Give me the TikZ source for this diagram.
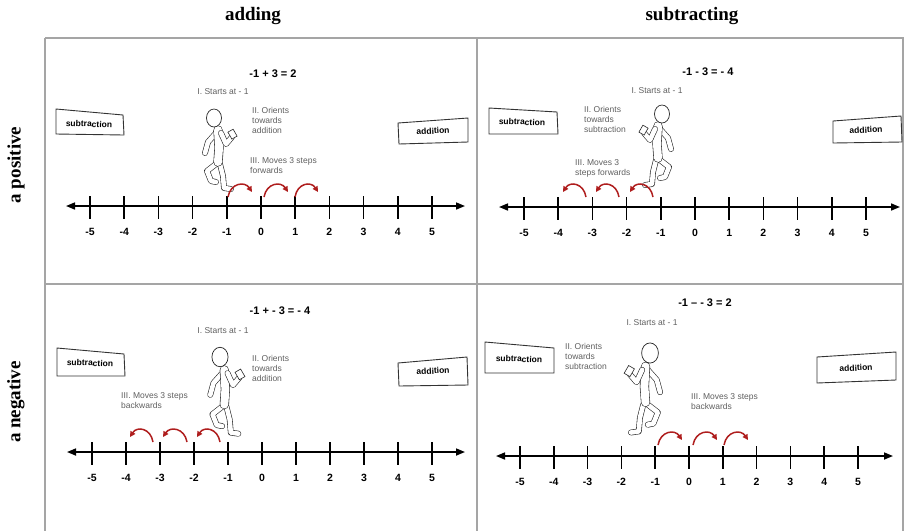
\documentclass[tikz,border=0pt]{standalone}
\usepackage{fontspec}
\setmainfont{Liberation Serif}
\setsansfont{Liberation Sans}
\usetikzlibrary{arrows.meta}

\definecolor{framegray}{RGB}{165,165,165}
\definecolor{notegray}{RGB}{95,95,95}
\definecolor{hopred}{RGB}{175,30,30}

\tikzset{
  frame/.style={draw=framegray, line width=2pt},
  header/.style={font=\fontsize{19}{22}\selectfont\bfseries},
  equation/.style={font=\sffamily\bfseries\fontsize{11}{13}\selectfont},
  note/.style={font=\sffamily\fontsize{8.5}{10}\selectfont, text=notegray, align=left, inner sep=0pt},
  signbox/.style={draw=black!80, line width=0.9pt},
  signtext/.style={font=\sffamily\bfseries\fontsize{8.5}{10}\selectfont},
  axis/.style={line width=1.6pt, {Triangle[length=9pt,width=7pt]}-{Triangle[length=9pt,width=7pt]}},
  axistick/.style={line width=1.6pt},
  ticklabel/.style={font=\sffamily\bfseries\fontsize{10.5}{12}\selectfont},
  hop/.style={draw=hopred, line width=1.5pt, -{Triangle[length=5.5pt,width=5.5pt]}},
  limb/.style={draw=black!85, line width=0.6pt, double=white, double distance=4.6pt, line cap=round, line join=round},
  walker/.pic={
    \draw[limb] (2,46) -- (-7,53) -- (-3,63) -- (2,64);   % back leg
    \draw[limb] (6,46) -- (9,58) -- (10,70) -- (17,71);   % front leg
    \draw[limb] (2,15) -- (-6,24) -- (-9,35);             % back arm
    \draw[limb, double distance=8pt] (4,12) -- (5,30) -- (4,44); % body
    \draw[limb] (7,15) -- (12,26) -- (18,19);             % arm with phone
    \draw[black!85, line width=0.6pt, fill=white, rotate around={30:(19,17)}] (16,12) rectangle (22,20);
    \draw[black!85, line width=0.7pt, fill=white] (0,0) ellipse (7.5 and 9);
  }
}

% number line: left end, right end, height, first tick, spacing, name prefix
\newcommand\numline[6]{%
  \draw[axis] (#1,#3) -- (#2,#3);
  \foreach \n [count=\i from 0] in {-5,...,5} {
    \draw[axistick] ({#4+\i*#5},{#3-10}) -- ({#4+\i*#5},{#3+13});
    \node[ticklabel] (#6\i) at ({#4+\i*#5},{#3+26}) {\n};
  }
}
% one red step from x=#1 to x=#2 over height #3
\newcommand\hop[3]{%
  \draw[hop] (#1,#3) .. controls ({#1+0.1*(#2-#1)},{#3-14}) and ({#2-0.3*(#2-#1)},{#3-16}) .. (#2,{#3-5});
}

\begin{document}
\begin{tikzpicture}[x=1pt, y=-1pt]
\useasboundingbox (0,0) rectangle (904,531);

% table lines
\draw[frame] (45,38) -- (904,38);
\draw[frame] (45,284) -- (904,284);
\draw[frame] (45,38) -- (45,531);
\draw[frame] (477,38) -- (477,531);
\draw[frame] (903,38) -- (903,531);

% column and row heads
\node[header] (add)  at (253,16) {adding};
\node[header] (sub)  at (692,16) {subtracting};
\node[header, rotate=90] (pos) at (16,165) {a positive};
\node[header, rotate=90] (neg) at (16,402) {a negative};

%% -1 + 3 = 2
\node[equation] (eqA) at (273,74) {-1 + 3 = 2};
\node[note] (startA) at (223,92) {I. Starts at - 1};
\node[note, anchor=north west] (turnA) at (252,107) {II. Orients\\towards\\addition};
\node[note, anchor=north west] (moveA) at (250,157) {III. Moves 3 steps\\forwards};
\draw[signbox] (56,109) -- (123,115) -- (124,135) -- (56,134) -- cycle;
\node[signtext, rotate=-2] (subA) at (89,124) {subtraction};
\draw[signbox] (398,123) -- (468,118) -- (468,142) -- (399,144) -- cycle;
\node[signtext, rotate=3] (addA) at (433,131) {addition};
\pic at (214,118) {walker};
\numline{66}{465}{206}{90}{34.2}{a}
\hop{228}{252}{197} \hop{264}{288}{197} \hop{295}{318}{197}

%% -1 - 3 = -4
\node[equation] (eqB) at (708,72) {-1 - 3 = - 4};
\node[note] (startB) at (657,91) {I. Starts at - 1};
\node[note, anchor=north west] (turnB) at (584,106) {II. Orients\\towards\\subtraction};
\node[note, anchor=north west] (moveB) at (575,159) {III. Moves 3\\steps forwards};
\draw[signbox] (489,108) -- (557,112) -- (558,134) -- (489,134) -- cycle;
\node[signtext, rotate=-2] (subB) at (522,122) {subtraction};
\draw[signbox] (833,121) -- (901,116) -- (902,142) -- (833,143) -- cycle;
\node[signtext, rotate=3] (addB) at (866,130) {addition};
\pic[xscale=-1] at (662,114) {walker};
\numline{499}{900}{207}{524}{34.2}{b}
\hop{653}{630}{197} \hop{619}{596}{197} \hop{586}{563}{197}

%% -1 + -3 = -4
\node[equation] (eqC) at (280,311) {-1 + - 3 = - 4};
\node[note] (startC) at (223,331) {I. Starts at - 1};
\node[note, anchor=north west] (turnC) at (252,355) {II. Orients\\towards\\addition};
\node[note, anchor=north west] (moveC) at (121,392) {III. Moves 3 steps\\backwards};
\draw[signbox] (57,348) -- (124,354) -- (125,376) -- (57,376) -- cycle;
\node[signtext, rotate=-2] (subC) at (90,363) {subtraction};
\draw[signbox] (398,363) -- (467,357) -- (468,385) -- (399,386) -- cycle;
\node[signtext, rotate=3] (addC) at (433,371) {addition};
\pic[scale=1.08] at (220,357) {walker};
\numline{67}{465}{452}{92}{34}{c}
\hop{220}{197}{442} \hop{187}{163}{442} \hop{153}{130}{442}

%% -1 - -3 = 2
\node[equation] (eqD) at (705,303) {-1 – - 3 = 2};
\node[note] (startD) at (652,323) {I. Starts at - 1};
\node[note, anchor=north west] (turnD) at (565,343) {II. Orients\\towards\\subtraction};
\node[note, anchor=north west] (moveD) at (691,393) {III. Moves 3 steps\\backwards};
\draw[signbox] (485,342) -- (554,348) -- (554,373) -- (485,373) -- cycle;
\node[signtext, rotate=-2] (subD) at (519,359) {subtraction};
\draw[signbox] (817,357) -- (896,352) -- (896,380) -- (817,383) -- cycle;
\node[signtext, rotate=3] (addD) at (856,368) {addition};
\pic[xscale=-1.12, yscale=1.12] at (650,353) {walker};
\numline{496}{893}{456}{520}{33.8}{d}
\hop{658}{682}{445} \hop{693}{717}{445} \hop{724}{748}{445}

\end{tikzpicture}
\end{document}
